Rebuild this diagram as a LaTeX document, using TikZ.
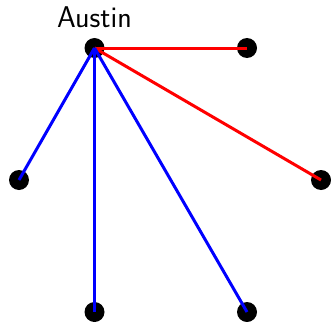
\documentclass[tikz,border=0pt]{standalone}
\usepackage{tikz}
\usetikzlibrary{positioning}

\begin{document}
\begin{tikzpicture}[x=1pt, y=1pt, >=stealth,
    dot/.style={circle, fill=black, inner sep=0pt, minimum size=20pt},
    edge/.style={line width=3pt}]
            \useasboundingbox (0,0) rectangle (331,-321);
            % Các đỉnh
            \node[dot] (austin) at (94.5,-48) {};
            \node[dot] (ne) at (247,-48) {};
            \node[dot] (w) at (19,-180) {};
            \node[dot] (e) at (321,-180) {};
            \node[dot] (s) at (94.5,-312) {};
            \node[dot] (se) at (247,-312) {};
            \node[font=\sffamily\fontsize{30}{34}\selectfont, anchor=base, inner sep=0pt] (lbl) at (94.5,-28) {Austin};
            
            % Cạnh đỏ
            \draw[red, edge] (austin.center) -- (ne.center);
            \draw[red, edge] (austin.center) -- (e.center);
            % Cạnh xanh
            \draw[blue, edge] (austin.center) -- (w.center);
            \draw[blue, edge] (austin.center) -- (s.center);
            \draw[blue, edge] (austin.center) -- (se.center);
        \end{tikzpicture}
\end{document}
